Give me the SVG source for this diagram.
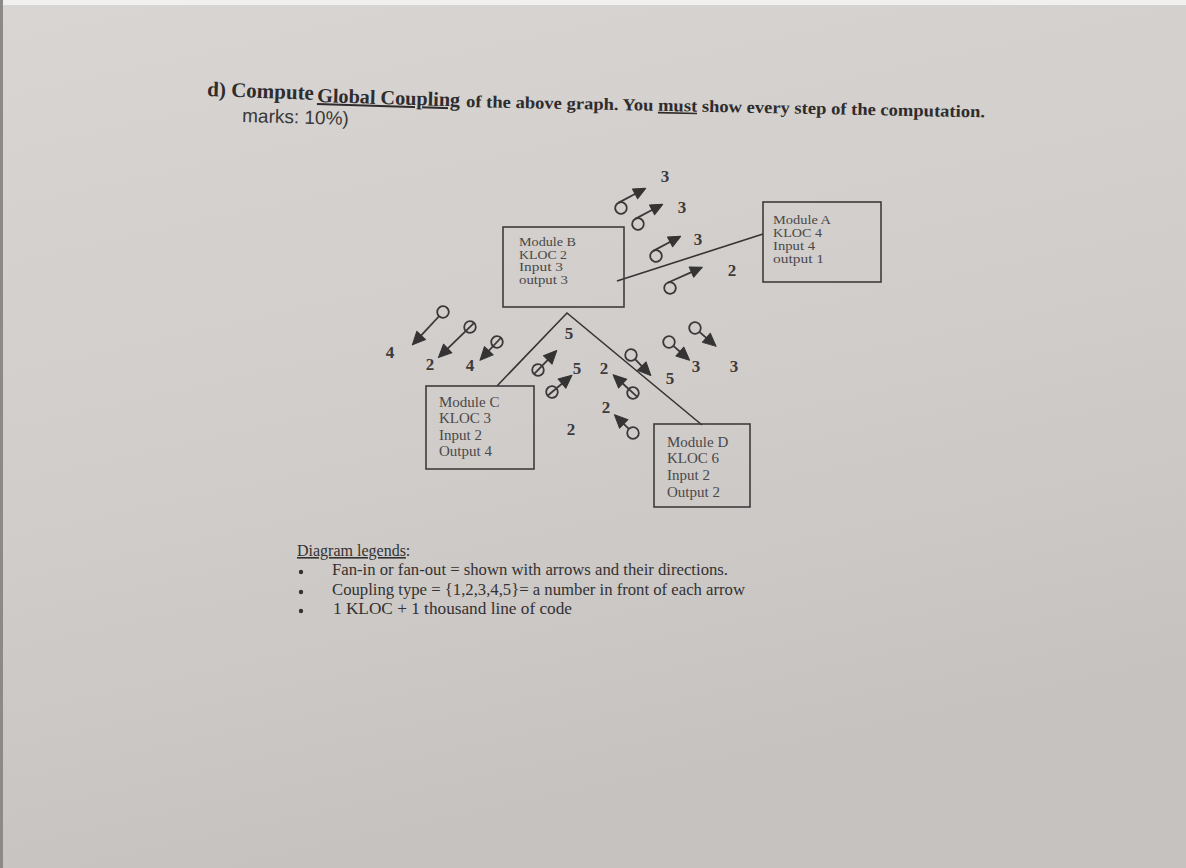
<svg xmlns="http://www.w3.org/2000/svg" width="1186" height="868" viewBox="0 0 1186 868">
  <defs>
    <linearGradient id="paper" x1="0" y1="0" x2="0.3" y2="1">
      <stop offset="0" stop-color="#d8d5d3"/>
      <stop offset="0.6" stop-color="#d0ccca"/>
      <stop offset="1" stop-color="#c6c2c0"/>
    </linearGradient>
    <style>
      .serif { font-family: "Liberation Serif", "Times New Roman", serif; }
      .sans { font-family: "Liberation Sans", Arial, sans-serif; }
      .title { fill: #2e2c2c; font-weight: bold; }
      .box { fill: none; stroke: #3e3c3c; stroke-width: 1.6; }
      .mtext { fill: #4a4848; }
      .small { font-size: 12.5px; }
      .big { font-size: 15px; }
      .link { stroke: #353333; stroke-width: 1.6; fill: none; }
      .couple circle { fill: none; stroke: #3a3838; stroke-width: 1.8; }
      .couple line { stroke: #3a3838; stroke-width: 1.8; }
      .couple polygon { fill: #353333; stroke: #353333; stroke-width: 1; stroke-linejoin: round; }
      .num { fill: #3c3a3a; font-size: 17px; font-weight: bold; text-anchor: middle; }
      .legend { fill: #333131; font-size: 16px; }
    </style>
  </defs>

  <!-- paper -->
  <rect x="0" y="0" width="1186" height="868" fill="url(#paper)"/>
  <rect x="0" y="0" width="1186" height="5" fill="#f1f0ef"/>
  <rect x="0" y="0" width="3" height="868" fill="#8c8a89"/>

  <!-- title -->
  <g id="title">
    <text class="serif title" x="207" y="96" font-size="21" transform="rotate(2 207 96)">d) Compute</text>
    <text class="serif title" x="317" y="102" font-size="20" textLength="143" lengthAdjust="spacingAndGlyphs" text-decoration="underline" transform="rotate(1.8 317 102)">Global Coupling</text>
    <text class="serif title" x="466" y="107" font-size="17" textLength="519" lengthAdjust="spacingAndGlyphs" transform="rotate(1.15 466 107)">of the above graph. You <tspan text-decoration="underline">must</tspan> show every step of the computation.</text>
    <text class="sans" x="242" y="122" font-size="19" fill="#3a3838" transform="rotate(1.5 242 122)">marks: 10%)</text>
  </g>

  <!-- connectors between modules -->
  <g id="connectors">
    <line class="link" x1="617" y1="281" x2="763" y2="234"/>
    <polyline class="link" points="497,386 567,313 702,425"/>
  </g>

  <!-- modules -->
  <g id="module-a">
    <rect class="box" x="763" y="202" width="118" height="80"/>
    <text class="serif mtext small" x="773" y="224" textLength="58" lengthAdjust="spacingAndGlyphs">Module A</text>
    <text class="serif mtext small" x="773" y="237" textLength="49" lengthAdjust="spacingAndGlyphs">KLOC 4</text>
    <text class="serif mtext small" x="773" y="250" textLength="42" lengthAdjust="spacingAndGlyphs">Input 4</text>
    <text class="serif mtext small" x="773" y="263" textLength="51" lengthAdjust="spacingAndGlyphs">output 1</text>
  </g>
  <g id="module-b">
    <rect class="box" x="503" y="227" width="121" height="80"/>
    <text class="serif mtext small" x="519" y="246" textLength="57" lengthAdjust="spacingAndGlyphs">Module B</text>
    <text class="serif mtext small" x="519" y="258.5" textLength="48" lengthAdjust="spacingAndGlyphs">KLOC 2</text>
    <text class="serif mtext small" x="519" y="271" textLength="44" lengthAdjust="spacingAndGlyphs">Input 3</text>
    <text class="serif mtext small" x="519" y="284" textLength="49" lengthAdjust="spacingAndGlyphs">output 3</text>
  </g>
  <g id="module-c">
    <rect class="box" x="426" y="386" width="108" height="83"/>
    <text class="serif mtext big" x="439" y="407">Module C</text>
    <text class="serif mtext big" x="439" y="423">KLOC 3</text>
    <text class="serif mtext big" x="439" y="440">Input 2</text>
    <text class="serif mtext big" x="439" y="456">Output 4</text>
  </g>
  <g id="module-d">
    <rect class="box" x="654" y="424" width="96" height="83"/>
    <text class="serif mtext big" x="667" y="447">Module D</text>
    <text class="serif mtext big" x="667" y="463">KLOC 6</text>
    <text class="serif mtext big" x="667" y="480">Input 2</text>
    <text class="serif mtext big" x="667" y="497">Output 2</text>
  </g>

  <!-- couples (data / control arrows) -->
  <g id="couples">
    <!-- between B and A -->
    <g class="couple" transform="translate(621 208) rotate(-28)"><circle r="5.8"/><line x1="0" y1="-5.8" x2="21" y2="-5.8"/><polygon points="31,-5.8 19,-11.3 19,-0.3"/></g>
    <g class="couple" transform="translate(638 224) rotate(-28)"><circle r="5.8"/><line x1="0" y1="-5.8" x2="21" y2="-5.8"/><polygon points="31,-5.8 19,-11.3 19,-0.3"/></g>
    <g class="couple" transform="translate(656 256) rotate(-28)"><circle r="5.8"/><line x1="0" y1="-5.8" x2="21" y2="-5.8"/><polygon points="31,-5.8 19,-11.3 19,-0.3"/></g>
    <g class="couple" transform="translate(670 288) rotate(-24)"><circle r="5.8"/><line x1="0" y1="-5.8" x2="28" y2="-5.8"/><polygon points="38,-5.8 26,-11.3 26,-0.3"/></g>
    <!-- between B and C -->
    <g class="couple" transform="translate(443 312) rotate(133)"><circle r="5.8"/><line x1="5.8" y1="0" x2="35" y2="0"/><polygon points="45,0 32,-6 32,6"/></g>
    <g class="couple" transform="translate(470 327) rotate(136)"><circle r="5.8"/><line x1="-5.8" y1="0" x2="34" y2="0"/><polygon points="44,0 31,-6 31,6"/></g>
    <g class="couple" transform="translate(497 342) rotate(133)"><circle r="5.8"/><line x1="-5.8" y1="0" x2="15" y2="0"/><polygon points="25,0 12,-6 12,6"/></g>
    <!-- between C and D -->
    <g class="couple" transform="translate(538 370) rotate(-46)"><circle r="5.8"/><line x1="-5.8" y1="0" x2="17" y2="0"/><polygon points="27,0 14,-6 14,6"/></g>
    <g class="couple" transform="translate(552 392) rotate(-40)"><circle r="5.8"/><line x1="-5.8" y1="0" x2="16" y2="0"/><polygon points="26,0 13,-6 13,6"/></g>
    <g class="couple" transform="translate(633 393) rotate(-137.5)"><circle r="5.8"/><line x1="-5.8" y1="0" x2="17" y2="0"/><polygon points="27,0 14,-6 14,6"/></g>
    <g class="couple" transform="translate(633 433) rotate(-135.5)"><circle r="5.8"/><line x1="5.8" y1="0" x2="16" y2="0"/><polygon points="26,0 13,-6 13,6"/></g>
    <!-- between B and D -->
    <g class="couple" transform="translate(631 355) rotate(46)"><circle r="5.8"/><line x1="5.8" y1="0" x2="18" y2="0"/><polygon points="28.5,0 15.5,-6 15.5,6"/></g>
    <g class="couple" transform="translate(669 342) rotate(41.5)"><circle r="5.8"/><line x1="5.8" y1="0" x2="17" y2="0"/><polygon points="27.5,0 14.5,-6 14.5,6"/></g>
    <g class="couple" transform="translate(695 328) rotate(41)"><circle r="5.8"/><line x1="5.8" y1="0" x2="18" y2="0"/><polygon points="28,0 15,-6 15,6"/></g>
  </g>

  <!-- coupling type numbers -->
  <g id="coupling-labels" class="serif">
    <text class="num" x="665" y="182">3</text>
    <text class="num" x="682" y="213">3</text>
    <text class="num" x="698" y="245">3</text>
    <text class="num" x="732" y="276">2</text>
    <text class="num" x="390" y="358">4</text>
    <text class="num" x="430" y="370">2</text>
    <text class="num" x="470" y="371">4</text>
    <text class="num" x="569" y="339">5</text>
    <text class="num" x="577" y="374">5</text>
    <text class="num" x="604" y="374">2</text>
    <text class="num" x="606" y="413">2</text>
    <text class="num" x="571" y="435">2</text>
    <text class="num" x="670" y="384">5</text>
    <text class="num" x="696" y="372">3</text>
    <text class="num" x="734" y="372">3</text>
  </g>

  <!-- legend -->
  <g id="legend" class="serif">
    <text class="legend" x="297" y="556"><tspan text-decoration="underline">Diagram legends</tspan>:</text>
    <circle cx="301" cy="572" r="2.2" fill="#333131"/>
    <circle cx="301" cy="592" r="2.2" fill="#333131"/>
    <circle cx="301" cy="611" r="2.2" fill="#333131"/>
    <text class="legend" x="332" y="575" textLength="396" lengthAdjust="spacingAndGlyphs">Fan-in or fan-out = shown with arrows and their directions.</text>
    <text class="legend" x="332" y="595" textLength="413" lengthAdjust="spacingAndGlyphs">Coupling type = {1,2,3,4,5}= a number in front of each arrow</text>
    <text class="legend" x="333" y="614" textLength="239" lengthAdjust="spacingAndGlyphs">1 KLOC + 1 thousand line of code</text>
  </g>
</svg>
